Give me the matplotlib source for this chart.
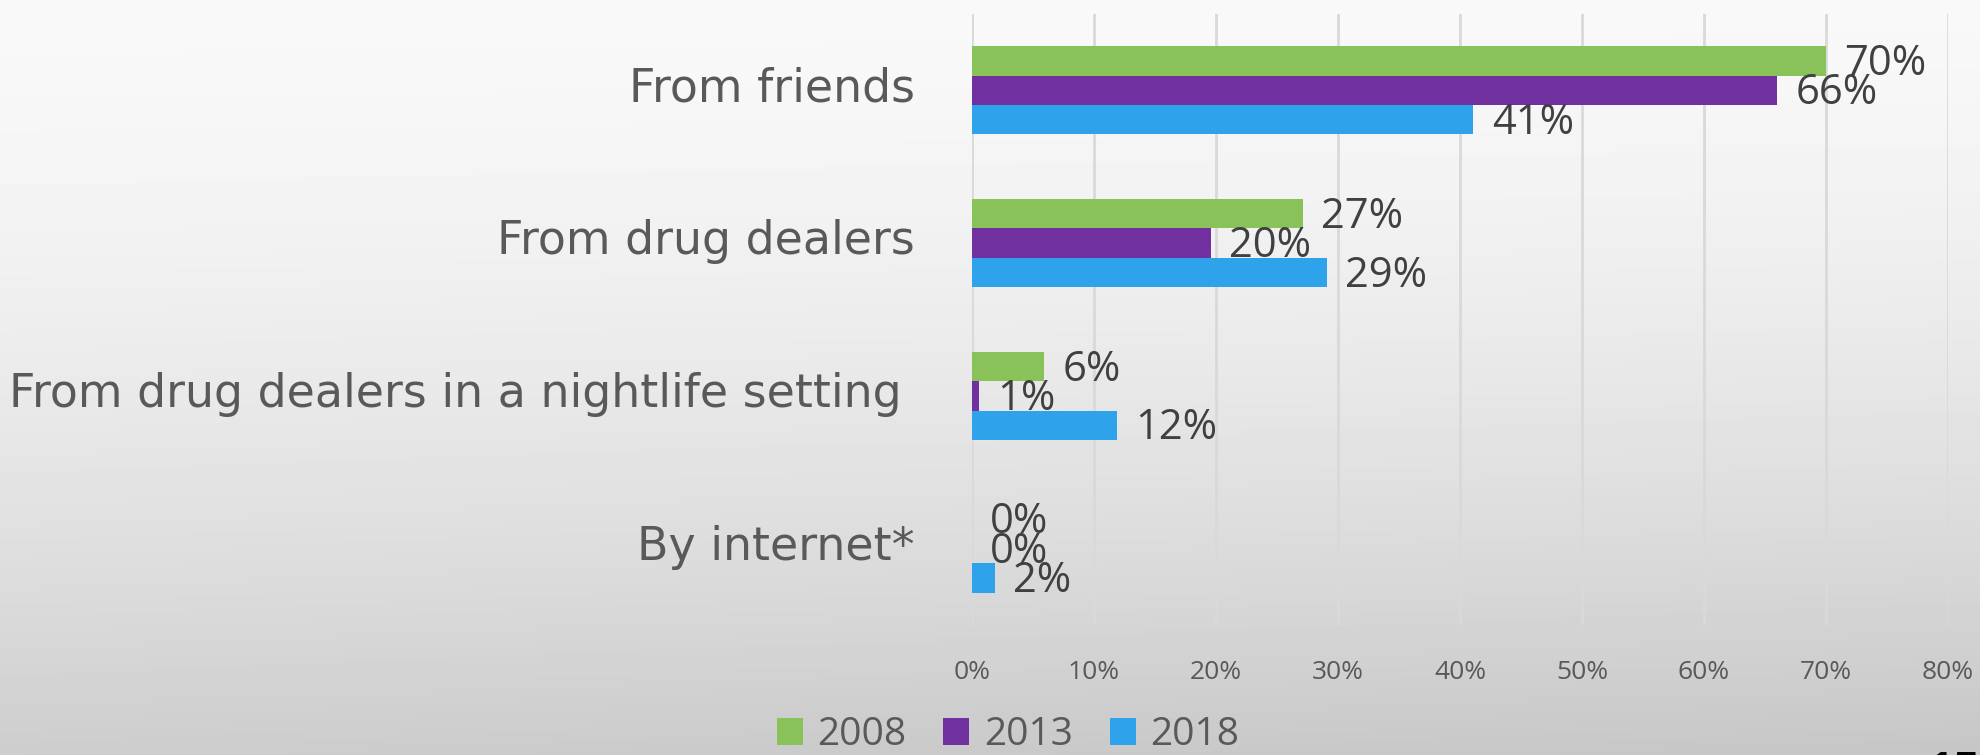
import numpy as np
import matplotlib.pyplot as plt
from matplotlib.patches import Patch
from matplotlib.transforms import ScaledTranslation

# dane
kategorie = ['From friends', 'From drug dealers',
             'From drug dealers in a nightlife setting', 'By internet*']
lata = ['2008', '2013', '2018']
w2008 = [70, 27.1, 5.9, 0]
w2013 = [66, 19.6, 0.6, 0]
w2018 = [41.1, 29.1, 11.9, 1.9]
kolory = ['#8AC25A', '#7030A0', '#2EA3EC']
xticks = [0, 10, 20, 30, 40, 50, 60, 70, 80]

plt.rcParams['font.family'] = ['Open Sans', 'DejaVu Sans']

fig = plt.figure(figsize=(19.8, 7.55), dpi=100)

# tlo - gradient
bg = fig.add_axes([0, 0, 1, 1], zorder=-1)
yy = np.linspace(0, 1, 200)[:, None]
xx = np.linspace(0, 1, 300)[None, :]
grad = 0.975 - 0.17 * yy ** 1.6 - 0.03 * xx * yy
bg.imshow(grad, cmap='gray', vmin=0, vmax=1, aspect='auto',
          extent=(0, 1, 0, 1), origin='upper')
bg.axis('off')

ax = fig.add_axes([972 / 1980, 1 - 625 / 755, 976 / 1980, 611 / 755])
ax.set_facecolor('none')

y = np.arange(len(kategorie))
h = 0.192
for i, (vals, kol, rok) in enumerate(zip([w2008, w2013, w2018], kolory, lata)):
    pos = y + (i - 1) * h
    ax.barh(pos, vals, height=h, color=kol, label=rok, zorder=3)
    for p, v in zip(pos, vals):
        ax.text(v + 1.5, p + 0.02, f'{v:.0f}%', va='center', ha='left',
                fontsize=30, color='#404040', zorder=4)

ax.set_ylim(len(kategorie) - 0.5, -0.5)
ax.set_xlim(0, 80)
ax.set_xticks(xticks)
ax.set_xticklabels([f'{t}%' for t in xticks], fontsize=19, color='#595959')
ax.set_yticks(y)
ax.set_yticklabels(kategorie, fontsize=33, color='#595959', family='DejaVu Sans')
ax.tick_params(axis='y', length=0, pad=41)
ax.tick_params(axis='x', length=0, pad=25)
# etykiety kategorii troche wyzej (dluga etykieta lekko w lewo, jak w oryginale)
for k, lbl in enumerate(ax.get_yticklabels()):
    dx = -9.4 / 72 if k == 2 else 0
    lbl.set_transform(lbl.get_transform() + ScaledTranslation(dx, 4.5 / 72, fig.dpi_scale_trans))
ax.grid(axis='x', color='#d9d9d9', linewidth=2, zorder=0)
ax.set_axisbelow(True)
for s in ax.spines.values():
    s.set_visible(False)

uchwyty = [Patch(facecolor=k, label=r) for k, r in zip(kolory, lata)]
fig.legend(handles=uchwyty, loc='center', bbox_to_anchor=(1008 / 1980, 1 - 735 / 755),
           ncol=3, frameon=False, fontsize=28, labelcolor='#595959',
           handlelength=0.67, handleheight=0.67, handletextpad=0.37,
           columnspacing=0.95)

# numer slajdu (uciety u dolu, jak w oryginale)
fig.text(1926 / 1980, -30 / 755, '15', ha='left', va='baseline', fontsize=34,
         color='black', fontweight='bold')

plt.savefig('out.png', dpi=100)
